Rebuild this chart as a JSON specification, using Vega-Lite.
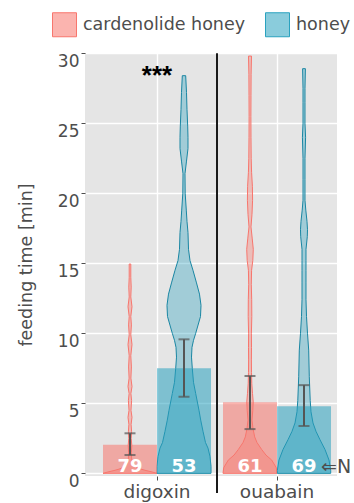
{
"$schema": "https://vega.github.io/schema/vega-lite/v6.json",
"width": 252, "height": 423,
"autosize": {"type": "none"},
"padding": {"left": 85, "top": 53, "right": 17, "bottom": 27},
"datasets": {
"stats": [
{"drug":"digoxin","group":"cardenolide honey","mean":2.05,"lo":1.31,"hi":2.86,"n":79},
{"drug":"digoxin","group":"honey","mean":7.5,"lo":5.47,"hi":9.57,"n":53},
{"drug":"ouabain","group":"cardenolide honey","mean":5.07,"lo":3.16,"hi":6.95,"n":61},
{"drug":"ouabain","group":"honey","mean":4.8,"lo":3.38,"hi":6.3,"n":69}
],
"vdc": [
{"t":0,"w":1},{"t":0.1,"w":0.815},{"t":0.2,"w":0.593},{"t":0.3,"w":0.407},{"t":0.45,"w":0.222},{"t":0.6,"w":0.13},{"t":0.8,"w":0.081},{"t":1.1,"w":0.059},{"t":1.5,"w":0.052},{"t":2,"w":0.067},{"t":2.5,"w":0.044},{"t":3,"w":0.059},{"t":3.5,"w":0.041},{"t":4,"w":0.074},{"t":4.5,"w":0.037},{"t":5.2,"w":0.059},{"t":5.7,"w":0.033},{"t":6.2,"w":0.074},{"t":6.8,"w":0.033},{"t":7.6,"w":0.052},{"t":8.4,"w":0.03},{"t":9.2,"w":0.074},{"t":9.9,"w":0.03},{"t":10.6,"w":0.052},{"t":11.2,"w":0.03},{"t":11.9,"w":0.074},{"t":12.6,"w":0.03},{"t":13.3,"w":0.044},{"t":14,"w":0.03},{"t":14.95,"w":0.03},
{"t":14.95,"w":-0.03},{"t":14,"w":-0.03},{"t":13.3,"w":-0.044},{"t":12.6,"w":-0.03},{"t":11.9,"w":-0.074},{"t":11.2,"w":-0.03},{"t":10.6,"w":-0.052},{"t":9.9,"w":-0.03},{"t":9.2,"w":-0.074},{"t":8.4,"w":-0.03},{"t":7.6,"w":-0.052},{"t":6.8,"w":-0.033},{"t":6.2,"w":-0.074},{"t":5.7,"w":-0.033},{"t":5.2,"w":-0.059},{"t":4.5,"w":-0.037},{"t":4,"w":-0.074},{"t":3.5,"w":-0.041},{"t":3,"w":-0.059},{"t":2.5,"w":-0.044},{"t":2,"w":-0.067},{"t":1.5,"w":-0.052},{"t":1.1,"w":-0.059},{"t":0.8,"w":-0.081},{"t":0.6,"w":-0.13},{"t":0.45,"w":-0.222},{"t":0.3,"w":-0.407},{"t":0.2,"w":-0.593},{"t":0.1,"w":-0.815},{"t":0,"w":-1},{"t":0,"w":1}
],
"vdh": [
{"t":0,"w":1},{"t":0.5,"w":1},{"t":1.2,"w":0.963},{"t":1.8,"w":0.889},{"t":2.2,"w":0.796},{"t":3,"w":0.704},{"t":3.8,"w":0.619},{"t":4.5,"w":0.556},{"t":5.7,"w":0.433},{"t":6.5,"w":0.352},{"t":7.5,"w":0.307},{"t":8.3,"w":0.278},{"t":9,"w":0.296},{"t":9.5,"w":0.352},{"t":10,"w":0.433},{"t":11.2,"w":0.611},{"t":12,"w":0.63},{"t":12.8,"w":0.574},{"t":13.6,"w":0.463},{"t":14.5,"w":0.333},{"t":15.2,"w":0.222},{"t":16,"w":0.167},{"t":17.2,"w":0.148},{"t":18,"w":0.111},{"t":18.8,"w":0.085},{"t":20,"w":0.044},{"t":21.4,"w":0.037},{"t":22.3,"w":0.093},{"t":23.2,"w":0.148},{"t":24,"w":0.148},{"t":24.8,"w":0.137},{"t":26,"w":0.111},{"t":27.2,"w":0.093},{"t":28.4,"w":0.063},
{"t":28.4,"w":-0.063},{"t":27.2,"w":-0.093},{"t":26,"w":-0.111},{"t":24.8,"w":-0.137},{"t":24,"w":-0.148},{"t":23.2,"w":-0.148},{"t":22.3,"w":-0.093},{"t":21.4,"w":-0.037},{"t":20,"w":-0.044},{"t":18.8,"w":-0.085},{"t":18,"w":-0.111},{"t":17.2,"w":-0.148},{"t":16,"w":-0.167},{"t":15.2,"w":-0.222},{"t":14.5,"w":-0.333},{"t":13.6,"w":-0.463},{"t":12.8,"w":-0.574},{"t":12,"w":-0.63},{"t":11.2,"w":-0.611},{"t":10,"w":-0.433},{"t":9.5,"w":-0.352},{"t":9,"w":-0.296},{"t":8.3,"w":-0.278},{"t":7.5,"w":-0.307},{"t":6.5,"w":-0.352},{"t":5.7,"w":-0.433},{"t":4.5,"w":-0.556},{"t":3.8,"w":-0.619},{"t":3,"w":-0.704},{"t":2.2,"w":-0.796},{"t":1.8,"w":-0.889},{"t":1.2,"w":-0.963},{"t":0.5,"w":-1},{"t":0,"w":-1},{"t":0,"w":1}
],
"voc": [
{"t":0,"w":1},{"t":0.4,"w":0.974},{"t":0.95,"w":0.804},{"t":1.3,"w":0.593},{"t":1.7,"w":0.433},{"t":2.2,"w":0.259},{"t":2.6,"w":0.174},{"t":3.2,"w":0.111},{"t":3.8,"w":0.074},{"t":4.5,"w":0.104},{"t":5.1,"w":0.119},{"t":5.7,"w":0.093},{"t":6.4,"w":0.067},{"t":7.2,"w":0.056},{"t":8.1,"w":0.052},{"t":9,"w":0.056},{"t":10,"w":0.052},{"t":11.2,"w":0.067},{"t":12.4,"w":0.063},{"t":13.5,"w":0.048},{"t":14.5,"w":0.059},{"t":15.2,"w":0.104},{"t":16,"w":0.122},{"t":16.8,"w":0.081},{"t":17.6,"w":0.037},{"t":18.5,"w":0.074},{"t":19.5,"w":0.096},{"t":20.5,"w":0.089},{"t":21.5,"w":0.059},{"t":22.5,"w":0.044},{"t":24,"w":0.037},{"t":25.5,"w":0.033},{"t":27,"w":0.037},{"t":28.5,"w":0.041},{"t":29.8,"w":0.056},
{"t":29.8,"w":-0.056},{"t":28.5,"w":-0.041},{"t":27,"w":-0.037},{"t":25.5,"w":-0.033},{"t":24,"w":-0.037},{"t":22.5,"w":-0.044},{"t":21.5,"w":-0.059},{"t":20.5,"w":-0.089},{"t":19.5,"w":-0.096},{"t":18.5,"w":-0.074},{"t":17.6,"w":-0.037},{"t":16.8,"w":-0.081},{"t":16,"w":-0.122},{"t":15.2,"w":-0.104},{"t":14.5,"w":-0.059},{"t":13.5,"w":-0.048},{"t":12.4,"w":-0.063},{"t":11.2,"w":-0.067},{"t":10,"w":-0.052},{"t":9,"w":-0.056},{"t":8.1,"w":-0.052},{"t":7.2,"w":-0.056},{"t":6.4,"w":-0.067},{"t":5.7,"w":-0.093},{"t":5.1,"w":-0.119},{"t":4.5,"w":-0.104},{"t":3.8,"w":-0.074},{"t":3.2,"w":-0.111},{"t":2.6,"w":-0.174},{"t":2.2,"w":-0.259},{"t":1.7,"w":-0.433},{"t":1.3,"w":-0.593},{"t":0.95,"w":-0.804},{"t":0.4,"w":-0.974},{"t":0,"w":-1},{"t":0,"w":1}
],
"voh": [
{"t":0,"w":0.989},{"t":0.2,"w":0.989},{"t":0.95,"w":0.926},{"t":1.7,"w":0.778},{"t":2.4,"w":0.593},{"t":3,"w":0.444},{"t":3.6,"w":0.333},{"t":4.4,"w":0.259},{"t":5.2,"w":0.23},{"t":6.9,"w":0.196},{"t":8.8,"w":0.174},{"t":10,"w":0.13},{"t":11.2,"w":0.093},{"t":12.4,"w":0.074},{"t":13.6,"w":0.074},{"t":14.5,"w":0.074},{"t":15.2,"w":0.074},{"t":16,"w":0.074},{"t":16.9,"w":0.122},{"t":17.4,"w":0.13},{"t":18,"w":0.111},{"t":18.8,"w":0.067},{"t":19.5,"w":0.037},{"t":21,"w":0.037},{"t":22.5,"w":0.037},{"t":24,"w":0.059},{"t":25,"w":0.037},{"t":26.5,"w":0.037},{"t":27.5,"w":0.037},{"t":28.9,"w":0.052},
{"t":28.9,"w":-0.052},{"t":27.5,"w":-0.037},{"t":26.5,"w":-0.037},{"t":25,"w":-0.037},{"t":24,"w":-0.059},{"t":22.5,"w":-0.037},{"t":21,"w":-0.037},{"t":19.5,"w":-0.037},{"t":18.8,"w":-0.067},{"t":18,"w":-0.111},{"t":17.4,"w":-0.13},{"t":16.9,"w":-0.122},{"t":16,"w":-0.074},{"t":15.2,"w":-0.074},{"t":14.5,"w":-0.074},{"t":13.6,"w":-0.074},{"t":12.4,"w":-0.074},{"t":11.2,"w":-0.093},{"t":10,"w":-0.13},{"t":8.8,"w":-0.174},{"t":6.9,"w":-0.196},{"t":5.2,"w":-0.23},{"t":4.4,"w":-0.259},{"t":3.6,"w":-0.333},{"t":3,"w":-0.444},{"t":2.4,"w":-0.593},{"t":1.7,"w":-0.778},{"t":0.95,"w":-0.926},{"t":0.2,"w":-0.989},{"t":0,"w":-0.989},{"t":0,"w":0.989}
]
},
"data": {"name": "stats"},
"layer": [
{
"mark": {"type": "bar", "fillOpacity": 0},
"encoding": {
"x": {"field": "drug", "type": "nominal",
"scale": {"domain": ["digoxin", "ouabain"], "paddingInner": 0, "paddingOuter": 0.05, "align": 1},
"axis": {"title": null, "labelAngle": 0, "labelFontSize": 18.5, "labelPadding": 2, "tickSize": 4, "grid": true, "gridWidth": 1.4, "bandPosition": 0.5}},
"y": {"field": "mean", "type": "quantitative",
"scale": {"domain": [-0.19, 30.02], "nice": false, "zero": false},
"axis": {"title": "feeding time [min]", "titleFontSize": 17.5, "titlePadding": 22,
"values": [0, 2.5, 5, 7.5, 10, 12.5, 15, 17.5, 20, 22.5, 25, 27.5, 30],
"labelExpr": "datum.value % 5 === 0 ? datum.label : ''",
"labelFontSize": 17, "labelBaseline": "top", "labelPadding": 2, "tickSize": 4,
"gridWidth": {"condition": {"test": "datum.value % 5 !== 0", "value": 0.7}, "value": 1.4},
"tickOpacity": {"condition": {"test": "datum.value % 5 !== 0", "value": 0}, "value": 1}}}
}
},
{
"data": {"name": "vdc"},
"mark": {"type": "line", "fill": "#F8766D", "fillOpacity": 0.36, "stroke": "#F8766D", "strokeWidth": 1, "strokeJoin": "round"},
"encoding": {
"x": {"datum": "digoxin", "type": "nominal"},
"xOffset": {"field": "w", "type": "quantitative", "scale": {"domain": [-1, 1], "range": [6, 60]}},
"y": {"field": "t", "type": "quantitative"},
"order": {"value": null}
}
},
{
"data": {"name": "vdh"},
"mark": {"type": "line", "fill": "#2AA2BF", "fillOpacity": 0.36, "stroke": "#1A86A3", "strokeWidth": 1, "strokeJoin": "round"},
"encoding": {
"x": {"datum": "digoxin", "type": "nominal"},
"xOffset": {"field": "w", "type": "quantitative", "scale": {"domain": [-1, 1], "range": [60, 114]}},
"y": {"field": "t", "type": "quantitative"},
"order": {"value": null}
}
},
{
"data": {"name": "voc"},
"mark": {"type": "line", "fill": "#F8766D", "fillOpacity": 0.36, "stroke": "#F8766D", "strokeWidth": 1, "strokeJoin": "round"},
"encoding": {
"x": {"datum": "ouabain", "type": "nominal"},
"xOffset": {"field": "w", "type": "quantitative", "scale": {"domain": [-1, 1], "range": [6, 60]}},
"y": {"field": "t", "type": "quantitative"},
"order": {"value": null}
}
},
{
"data": {"name": "voh"},
"mark": {"type": "line", "fill": "#2AA2BF", "fillOpacity": 0.36, "stroke": "#1A86A3", "strokeWidth": 1, "strokeJoin": "round"},
"encoding": {
"x": {"datum": "ouabain", "type": "nominal"},
"xOffset": {"field": "w", "type": "quantitative", "scale": {"domain": [-1, 1], "range": [60, 114]}},
"y": {"field": "t", "type": "quantitative"},
"order": {"value": null}
}
},
{
"layer": [
{
"mark": {"type": "bar", "fillOpacity": 0.55},
"encoding": {
"x": {"field": "drug", "type": "nominal"},
"xOffset": {"field": "group", "type": "nominal", "scale": {"domain": ["cardenolide honey", "honey"], "paddingInner": 0, "paddingOuter": 0.111}},
"y": {"field": "mean", "type": "quantitative"},
"fill": {"field": "group", "type": "nominal",
"scale": {"domain": ["cardenolide honey", "honey"], "range": ["#F8766D", "#2AA2BF"]},
"legend": {"title": null, "orient": "none", "legendX": -33, "legendY": -41, "direction": "horizontal",
"symbolType": "square", "symbolSize": 576, "symbolStrokeWidth": 1,
"labelFontSize": 17.5, "labelFont": "DejaVu Sans", "labelColor": "#4d4d4d", "labelOffset": 6, "labelLimit": 400,
"columnPadding": 17, "padding": 0,
"encode": {"symbols": {"update": {"fillOpacity": {"value": 0.55}, "stroke": {"scale": "fill", "field": "value"}, "strokeWidth": {"value": 1}}}}}}
}
},
{
"mark": {"type": "rule", "color": "#555555", "strokeWidth": 2},
"encoding": {
"x": {"field": "drug", "type": "nominal"},
"xOffset": {"field": "group", "type": "nominal"},
"y": {"field": "lo", "type": "quantitative"},
"y2": {"field": "hi"}
}
},
{
"mark": {"type": "tick", "color": "#555555", "size": 11, "thickness": 2, "orient": "horizontal"},
"encoding": {
"x": {"field": "drug", "type": "nominal"},
"xOffset": {"field": "group", "type": "nominal"},
"y": {"field": "lo", "type": "quantitative"}
}
},
{
"mark": {"type": "tick", "color": "#555555", "size": 11, "thickness": 2, "orient": "horizontal"},
"encoding": {
"x": {"field": "drug", "type": "nominal"},
"xOffset": {"field": "group", "type": "nominal"},
"y": {"field": "hi", "type": "quantitative"}
}
},
{
"mark": {"type": "text", "color": "white", "fontSize": 18, "fontWeight": "bold", "font": "DejaVu Sans", "baseline": "alphabetic", "dy": -1},
"encoding": {
"x": {"field": "drug", "type": "nominal"},
"xOffset": {"field": "group", "type": "nominal"},
"y": {"datum": 0, "type": "quantitative"},
"text": {"field": "n", "type": "quantitative"}
}
}
]
},
{
"data": {"values": [{}]},
"mark": {"type": "rule", "color": "#1a1a1a", "strokeWidth": 2, "clip": false},
"encoding": {
"x": {"datum": "ouabain", "type": "nominal", "bandPosition": 0},
"y": {"datum": 30, "type": "quantitative"},
"y2": {"datum": -1.4}
}
},
{
"data": {"values": [{"label": "***"}]},
"mark": {"type": "text", "font": "Liberation Sans", "fontSize": 26, "fontWeight": "bold", "color": "black", "baseline": "alphabetic"},
"encoding": {
"x": {"datum": "digoxin", "type": "nominal"},
"y": {"datum": 27.8, "type": "quantitative"},
"text": {"field": "label"}
}
},
{
"data": {"values": [{"label": "⇐N"}]},
"mark": {"type": "text", "font": "DejaVu Sans", "fontSize": 19, "color": "#4d4d4d", "align": "left", "baseline": "alphabetic", "dx": 44},
"encoding": {
"x": {"datum": "ouabain", "type": "nominal"},
"y": {"datum": 0, "type": "quantitative"},
"text": {"field": "label"}
}
}
],
"resolve": {"scale": {"xOffset": "independent"}},
"config": {
"view": {"fill": "#E5E5E5", "stroke": null},
"font": "DejaVu Sans",
"axis": {"domain": false, "labelFont": "DejaVu Sans", "titleFont": "DejaVu Sans", "labelColor": "#4d4d4d", "titleColor": "#4d4d4d", "tickColor": "#4d4d4d", "gridColor": "#FFFFFF", "titleFontWeight": "normal"}
}
}
